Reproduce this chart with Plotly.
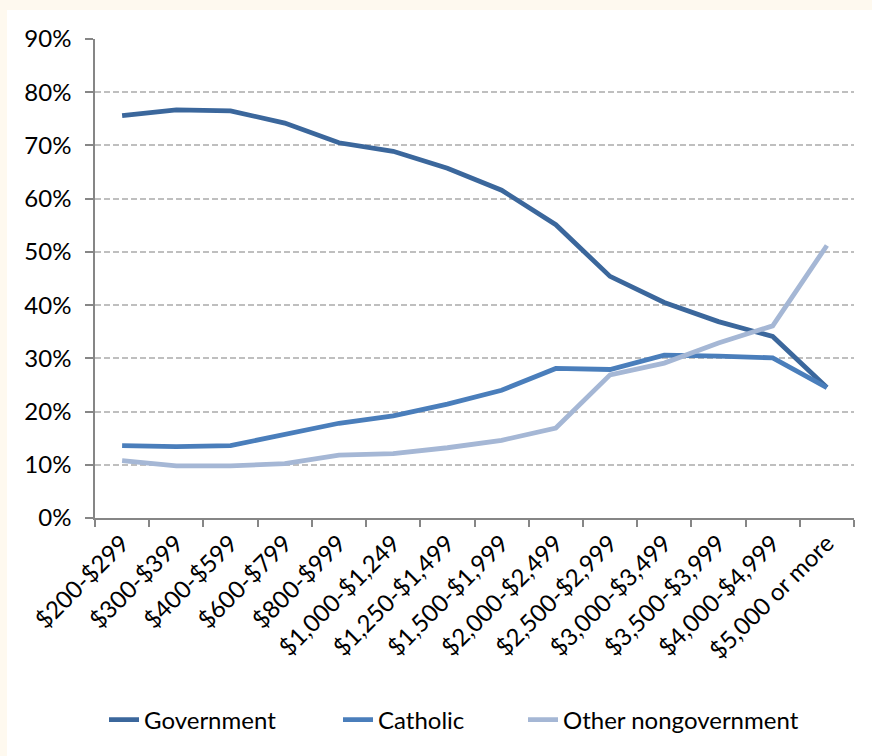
import plotly.graph_objects as go

# Weekly household income brackets
income_brackets = [
    "$200-$299", "$300-$399", "$400-$599", "$600-$799", "$800-$999",
    "$1,000-$1,249", "$1,250-$1,499", "$1,500-$1,999", "$2,000-$2,499",
    "$2,500-$2,999", "$3,000-$3,499", "$3,500-$3,999", "$4,000-$4,999",
    "$5,000 or more",
]

# Share of students by school sector (%)
government = [75.6, 76.7, 76.5, 74.2, 70.5, 68.9, 65.7, 61.6, 55.1, 45.4, 40.5, 36.9, 34.1, 24.5]
catholic = [13.6, 13.4, 13.6, 15.7, 17.8, 19.2, 21.4, 24.0, 28.1, 27.9, 30.6, 30.4, 30.1, 24.5]
other_nongov = [10.8, 9.8, 9.8, 10.2, 11.8, 12.1, 13.2, 14.6, 16.9, 26.9, 29.1, 32.9, 36.1, 51.2]

y_ticks = [0, 10, 20, 30, 40, 50, 60, 70, 80, 90]

FONT = "Lato, 'Open Sans', sans-serif"
FS = 24

W, H = 872, 756
ML, MR, MT, MB = 95, 18, 39, 238
pw, ph = W - ML - MR, H - MT - MB


def px_x(px):
    return (px - ML) / pw


def px_y(py):
    return (H - MB - py) / ph


# (name, values, colour, legend id, left edge of legend entry in px)
series = [
    ("Government", government, "#3B679C", "legend", 104),
    ("Catholic", catholic, "#4A7EBB", "legend2", 338),
    ("Other nongovernment", other_nongov, "#A5B7D5", "legend3", 523),
]

fig = go.Figure()
legend_layouts = {}
for name, values, color, leg, left in series:
    fig.add_trace(go.Scatter(
        x=income_brackets,
        y=[v / 100 for v in values],
        mode="lines",
        name=name,
        legend=leg,
        line=dict(color=color, width=4.8),
    ))
    legend_layouts[leg] = dict(
        x=px_x(left), xanchor="left",
        y=px_y(720), yanchor="middle",
        font=dict(family=FONT, size=FS, color="#000000"),
        bgcolor="rgba(0,0,0,0)",
        itemwidth=30,
    )

# cream frame along the top and left edges
cream = "#FEF9EF"
fig.add_shape(type="rect", xref="paper", yref="paper", layer="below",
              x0=px_x(0), x1=px_x(W), y0=px_y(10), y1=px_y(0),
              fillcolor=cream, line_width=0)
fig.add_shape(type="rect", xref="paper", yref="paper", layer="below",
              x0=px_x(0), x1=px_x(7), y0=px_y(H), y1=px_y(0),
              fillcolor=cream, line_width=0)

fig.update_layout(
    width=W, height=H,
    margin=dict(l=ML, r=MR, t=MT, b=MB, pad=0),
    paper_bgcolor="white",
    plot_bgcolor="white",
    font=dict(family=FONT, size=FS, color="#000000"),
    showlegend=True,
    **legend_layouts,
    xaxis=dict(
        type="category",
        range=[-0.5, len(income_brackets) - 0.5],
        tickson="boundaries",
        ticks="outside",
        ticklen=7,
        tickcolor="#868686",
        tickwidth=1.5,
        showline=True,
        linecolor="#868686",
        linewidth=1.5,
        showgrid=False,
        tickangle=-45,
        tickfont=dict(family=FONT, size=FS),
    ),
    yaxis=dict(
        range=[0, 0.9],
        tickvals=[t / 100 for t in y_ticks],
        ticktext=[f"{t}%" for t in y_ticks],
        ticks="outside",
        ticklen=8,
        tickcolor="#868686",
        tickwidth=1.5,
        showline=True,
        linecolor="#868686",
        linewidth=1.5,
        showgrid=True,
        gridcolor="#BFBFBF",
        gridwidth=1.5,
        griddash="6px,3px",
        zeroline=False,
        ticklabelstandoff=9,
        tickfont=dict(family=FONT, size=FS),
    ),
)

fig.write_html("out.html")
